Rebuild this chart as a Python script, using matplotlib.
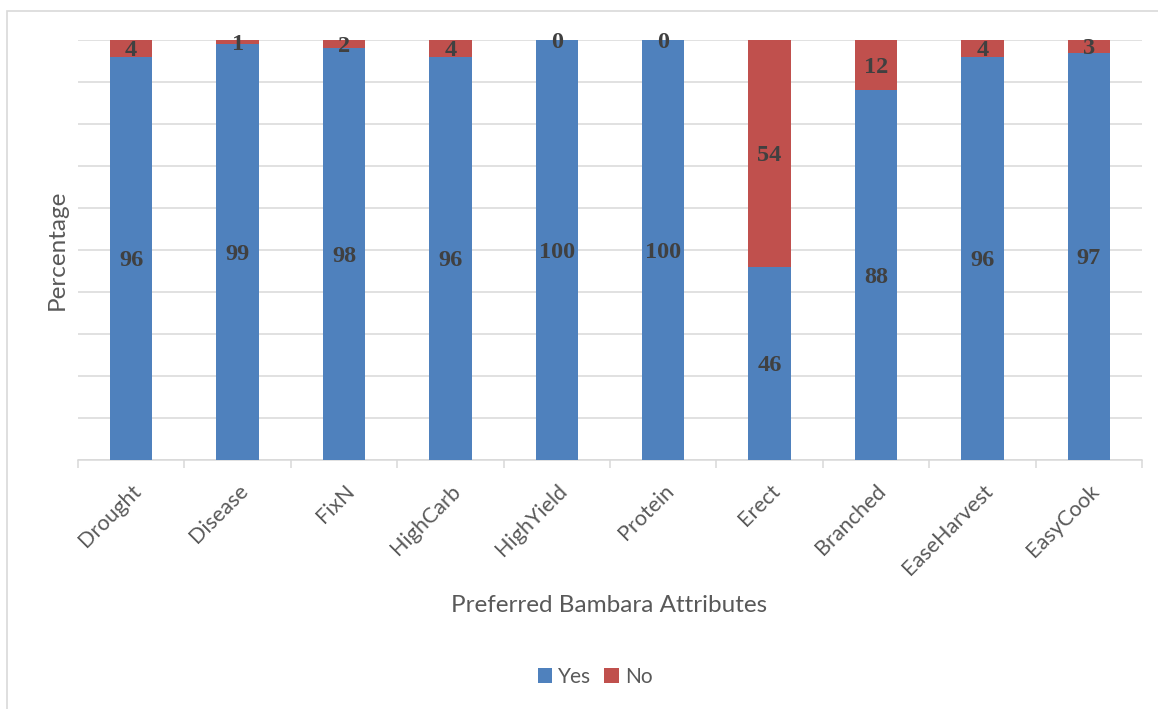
import numpy as np
import matplotlib.pyplot as plt
from matplotlib.patches import Rectangle

# Data
attributes = ['Drought', 'Disease', 'FixN', 'HighCarb', 'HighYield',
              'Protein', 'Erect', 'Branched', 'EaseHarvest', 'EasyCook']
yes = [96, 99, 98, 96, 100, 100, 46, 88, 96, 97]
no = [4, 1, 2, 4, 0, 0, 54, 12, 4, 3]

blue = '#4F81BD'
red = '#C0504D'
grid_col = '#D9D9D9'
text_col = '#595959'

W, H = 1158, 709
fig = plt.figure(figsize=(W / 100, H / 100), dpi=100)
ax = fig.add_axes([78 / W, 1 - 460 / H, (1142 - 78) / W, (460 - 40) / H])

# Outer chart border
fig.patches.append(Rectangle((7.5 / W, -0.1), 1.2, 1 - 10.5 / H + 0.1,
                             transform=fig.transFigure, fill=False,
                             edgecolor=grid_col, lw=1.2))

x = np.arange(len(attributes))
ax.bar(x, yes, width=0.4, color=blue, label='Yes', zorder=3)
ax.bar(x, no, width=0.4, bottom=yes, color=red, label='No', zorder=3)

# Data labels centred in each segment
lab_font = dict(family='Liberation Serif', weight='bold', size=17.5, color='#404040')
for i in range(len(x)):
    ax.text(x[i], yes[i] / 2, str(yes[i]), ha='center', va='center_baseline', zorder=4, **lab_font)
    ax.text(x[i], yes[i] + no[i] / 2, str(no[i]), ha='center', va='center_baseline', zorder=4, **lab_font)

ax.set_xlim(-0.5, len(x) - 0.5)
ax.set_ylim(0, 100)
ax.set_yticks(np.arange(0, 101, 10))
ax.set_yticklabels([])
ax.tick_params(axis='y', length=0)
ax.yaxis.grid(True, color=grid_col, lw=1.1, zorder=0)

ax.set_xticks(x)
ax.set_xticklabels(attributes, rotation=45, ha='right', rotation_mode='anchor',
                   family='Lato', size=15.5, color=text_col)
ax.tick_params(axis='x', which='major', length=0, pad=15)
ax.set_xticks(np.arange(-0.5, len(x), 1), minor=True)
ax.tick_params(axis='x', which='minor', length=6, color=grid_col, width=1.1)

for s in ['top', 'right', 'left']:
    ax.spines[s].set_visible(False)
ax.spines['bottom'].set_color(grid_col)
ax.spines['bottom'].set_linewidth(1.1)

ax.set_ylabel('Percentage', family='Lato', size=17.5, color=text_col, labelpad=4)
fig.text(609 / W, 1 - 605 / H, 'Preferred Bambara Attributes', ha='center', va='center',
         family='Lato', size=17.5, color=text_col)

leg = fig.legend(loc='center', bbox_to_anchor=(595 / W, 1 - 677 / H), ncol=2, frameon=False,
                 handlelength=0.7, handleheight=0.7, handletextpad=0.3, columnspacing=0.6,
                 prop={'family': 'Lato', 'size': 15})
for t in leg.get_texts():
    t.set_color(text_col)

fig.savefig('out.png', dpi=100)
